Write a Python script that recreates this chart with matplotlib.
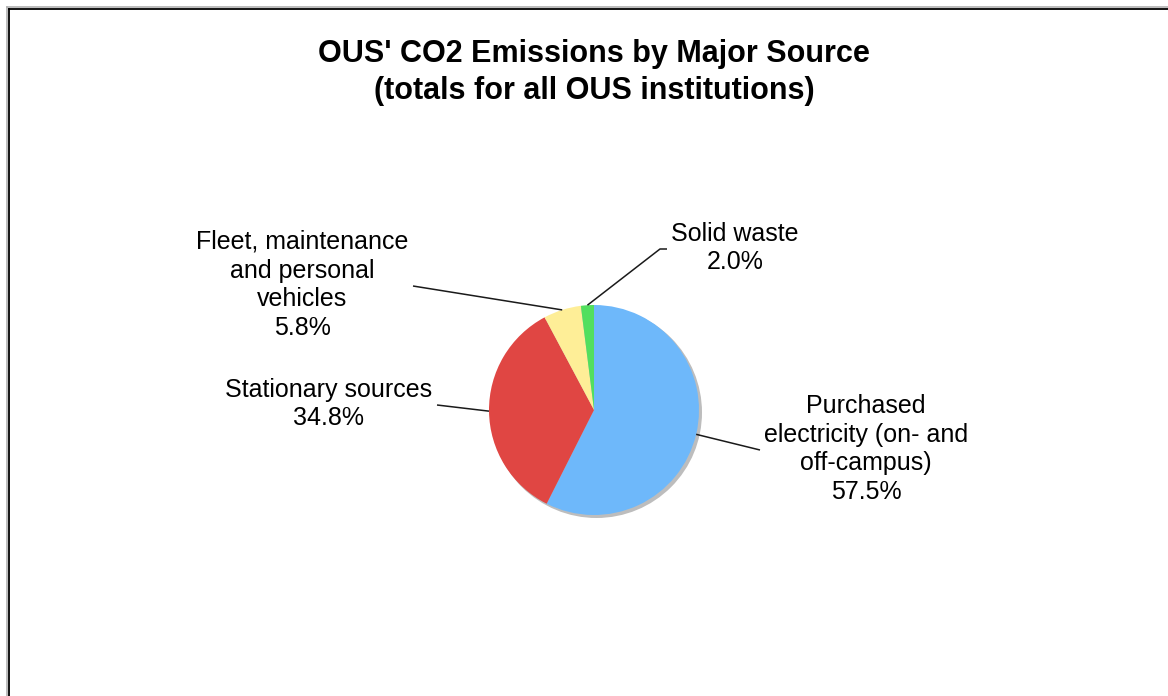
import numpy as np
import matplotlib
matplotlib.use("Agg")
import matplotlib.pyplot as plt
from matplotlib.patches import Circle
from matplotlib.lines import Line2D

# ---- data ----
categories = ["Purchased\nelectricity (on- and\noff-campus)",
              "Stationary sources",
              "Fleet, maintenance\nand personal\nvehicles",
              "Solid waste"]
values = [57.5, 34.8, 5.8, 2.0]
pct_labels = ["57.5%", "34.8%", "5.8%", "2.0%"]
colors = ["#6EB8FA", "#E04643", "#FEEE97", "#52DF5E"]
title_lines = ["OUS' CO2 Emissions by Major Source",
               "(totals for all OUS institutions)"]

W, H = 1168, 696
plt.rcParams['font.family'] = ['Liberation Sans', 'DejaVu Sans']

fig = plt.figure(figsize=(W / 100, H / 100), dpi=100)
fig.patch.set_facecolor("white")
ax = fig.add_axes([0, 0, 1, 1])


def Y(py):
    return H - py


cx, cy, R = 594, Y(410), 105

# shadow
ax.add_patch(Circle((cx + 2.5, cy - 2.5), R + 0.5, color="#bdbdbd", zorder=1, lw=0))

wedges, _ = ax.pie(values, colors=colors, startangle=90, counterclock=False,
                   center=(cx, cy), radius=R,
                   wedgeprops=dict(linewidth=0, zorder=2))
for w in wedges:
    w.set_zorder(2)

ax.set_xlim(0, W)
ax.set_ylim(0, H)
ax.set_aspect("equal")
ax.axis("off")

# label layout (pixel positions of label text centres and leader ends)
label_pos = [(866, 449), (329, 404), (302, 285), (735, 248)]
leader_end = [[(760, 450)], [(437, 405)], [(413, 286)], [(660, 249), (667, 249)]]

for w, cat, pct, (lx, ly), ends in zip(wedges, categories, pct_labels, label_pos, leader_end):
    mid = np.deg2rad((w.theta1 + w.theta2) / 2)
    sx, sy = cx + R * np.cos(mid), cy + R * np.sin(mid)
    xs = [sx] + [e[0] for e in ends]
    ys = [sy] + [Y(e[1]) for e in ends]
    ax.plot(xs, ys, color="#1a1a1a", lw=1.1, zorder=3, solid_capstyle="butt")
    ax.text(lx, Y(ly), cat + "\n" + pct, ha="center", va="center",
            multialignment="center", fontsize=18, linespacing=1.26,
            color="black", zorder=4)

ax.text(594, Y(62), title_lines[0], ha="center", va="baseline",
        fontsize=22, fontweight="bold", color="black")
ax.text(594, Y(99), title_lines[1], ha="center", va="baseline",
        fontsize=22, fontweight="bold", color="black")

# chart frame (left and top edges visible)
fig.add_artist(Line2D([6.8 / W, 6.8 / W], [0, 1 - 6.8 / H], transform=fig.transFigure,
                      color="#b0b0b0", lw=1.2))
fig.add_artist(Line2D([6.8 / W, 1], [1 - 6.8 / H, 1 - 6.8 / H], transform=fig.transFigure,
                      color="#b0b0b0", lw=1.2))
fig.add_artist(Line2D([8.5 / W, 8.5 / W], [0, 1 - 8.5 / H], transform=fig.transFigure,
                      color="black", lw=1.3))
fig.add_artist(Line2D([8.5 / W, 1], [1 - 8.5 / H, 1 - 8.5 / H], transform=fig.transFigure,
                      color="black", lw=1.3))

fig.savefig("out.png", dpi=100, facecolor="white")
